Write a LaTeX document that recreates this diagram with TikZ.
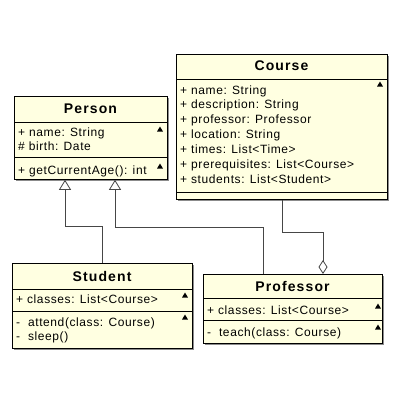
\documentclass[tikz,border=0pt]{standalone}
\usepackage{fontspec}
\setmainfont{Liberation Sans}
\newfontfamily\attrfont[LetterSpace=5]{Liberation Sans}
\newfontfamily\ttlfont[LetterSpace=8]{Liberation Sans}
\usetikzlibrary{arrows.meta,calc,shadows}
\definecolor{umlfill}{RGB}{255,255,225}
\definecolor{conncol}{RGB}{70,70,70}
\begin{document}
\begin{tikzpicture}[x=1pt,y=1pt,
  cls/.style={draw=black, fill=umlfill, line width=0.8pt, anchor=north west, inner sep=0pt,
    drop shadow={shadow xshift=1.5pt, shadow yshift=-1.5pt, fill=black!45, opacity=1}},
  ttl/.style={font=\ttlfont\fontsize{14}{16}\selectfont\bfseries, inner sep=0pt, anchor=base},
  attr/.style={font=\attrfont\fontsize{12}{14}\selectfont, inner sep=0pt, anchor=base west},
  divider/.style={draw=black, line width=0.8pt},
  conn/.style={draw=conncol, line width=0.8pt},
  gen/.style={conn, -{Triangle[open, length=10pt, width=12pt]}},
  agg/.style={conn, -{Diamond[open, length=14pt, width=9pt]}},
  tri/.pic={\fill[black] (-3,-2.5) -- (3,-2.5) -- (0,2.5) -- cycle;}
]
\useasboundingbox (0,0) rectangle (400,-400);
\fill[white] (0,0) rectangle (400,-400);

% Person
\node[cls, minimum width=153pt, minimum height=83pt] (person) at (14,-96) {};
\draw[divider] ($(person.north west)+(0,-26)$) -- ($(person.north east)+(0,-26)$);
\draw[divider] ($(person.north west)+(0,-61)$) -- ($(person.north east)+(0,-61)$);
\node[ttl] (personT) at (90.5,-113) {Person};
\node[attr] (personA1) at (18,-136) {+ name: String};
\node[attr] (personA2) at (18,-150) {\# birth: Date};
\node[attr] (personM1) at (18,-174) {+ getCurrentAge(): int};
\pic at (160,-129) {tri};
\pic at (160,-166) {tri};

% Course
\node[cls, minimum width=211pt, minimum height=145pt] (course) at (176,-54) {};
\draw[divider] ($(course.north west)+(0,-25)$) -- ($(course.north east)+(0,-25)$);
\draw[divider] ($(course.north west)+(0,-138)$) -- ($(course.north east)+(0,-138)$);
\node[ttl] (courseT) at (281.5,-70) {Course};
\node[attr] (courseA1) at (180,-94) {+ name: String};
\node[attr] (courseA2) at (180,-108.8) {+ description: String};
\node[attr] (courseA3) at (180,-123.7) {+ professor: Professor};
\node[attr] (courseA4) at (180,-138.5) {+ location: String};
\node[attr] (courseA5) at (180,-153.3) {+ times: List<Time>};
\node[attr] (courseA6) at (180,-168.2) {+ prerequisites: List<Course>};
\node[attr] (courseA7) at (180,-183) {+ students: List<Student>};
\pic at (380,-84) {tri};

% Student
\node[cls, minimum width=180pt, minimum height=85pt] (student) at (12,-263) {};
\draw[divider] ($(student.north west)+(0,-26)$) -- ($(student.north east)+(0,-26)$);
\draw[divider] ($(student.north west)+(0,-48)$) -- ($(student.north east)+(0,-48)$);
\node[ttl] (studentT) at (102,-281) {Student};
\node[attr] (studentA1) at (16,-303) {+ classes: List<Course>};
\node[attr] (studentM1) at (16,-326) {-\ \ attend(class: Course)};
\node[attr] (studentM2) at (16,-340) {-\ \ sleep()};
\pic at (185,-295) {tri};
\pic at (185,-317) {tri};

% Professor
\node[cls, minimum width=179pt, minimum height=69pt] (professor) at (203,-274) {};
\draw[divider] ($(professor.north west)+(0,-24)$) -- ($(professor.north east)+(0,-24)$);
\draw[divider] ($(professor.north west)+(0,-46)$) -- ($(professor.north east)+(0,-46)$);
\node[ttl] (professorT) at (292.5,-291) {Professor};
\node[attr] (professorA1) at (207,-314) {+ classes: List<Course>};
\node[attr] (professorM1) at (207,-336) {-\ \ teach(class: Course)};
\pic at (378,-306) {tri};
\pic at (378,-327) {tri};

% Connectors
\draw[gen] (student.north) |- ($(person.south west)+(51,-47)$) -- ($(person.south west)+(51,0)$);
\draw[gen] ($(professor.north west)+(60,0)$) |- ($(person.south west)+(101,-48)$) -- ($(person.south west)+(101,0)$);
\draw[agg] ($(course.south west)+(106,0)$) |- ($(professor.north west)+(120,42)$) -- ($(professor.north west)+(120,0)$);
\end{tikzpicture}
\end{document}
